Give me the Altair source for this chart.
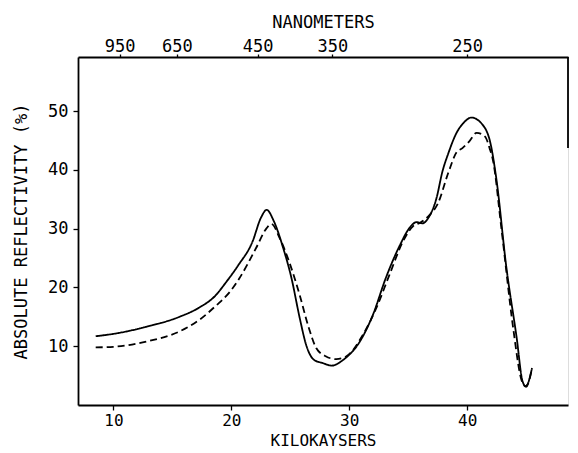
import altair as alt
import pandas as pd

# ---- data (kilokaysers, absolute reflectivity %) ----
solid_kk = [8.5, 10.0, 12.8, 15.6, 17.3, 18.6, 19.6, 20.6, 21.8, 22.5, 23.0, 23.6,
            24.4, 25.1, 25.8, 26.35, 27.0, 27.8, 28.5, 29.5, 30.9, 32.0, 33.1, 34.3,
            35.1, 35.7, 36.2, 36.7, 37.4, 37.9, 38.4, 39.1, 39.7, 40.35, 41.3, 42.0,
            42.5, 43.3, 44.2, 44.7, 45.0, 45.3, 45.5]
solid_r = [11.7, 12.1, 13.3, 15.0, 16.6, 18.5, 21.0, 23.8, 27.8, 31.8, 33.2, 31.3,
           26.7, 21.6, 14.8, 10.2, 7.7, 7.1, 6.7, 7.7, 10.8, 15.3, 21.6, 27.2,
           30.1, 31.1, 30.9, 31.8, 35.2, 39.7, 42.8, 46.3, 48.0, 48.9, 47.7, 44.3,
           38.1, 23.8, 11.4, 4.0, 3.1, 4.6, 6.3]

dashed_kk = [8.5, 10.0, 12.8, 15.6, 17.3, 18.7, 19.9, 20.7, 22.1, 23.0, 23.4, 24.1,
             24.9, 25.8, 26.5, 27.2, 28.0, 28.9, 29.7, 31.15, 32.3, 33.4, 34.55, 35.4,
             36.0, 36.8, 37.5, 38.4, 39.1, 39.6, 40.2, 40.8, 41.5, 41.9, 42.2, 42.9,
             43.9, 44.6, 44.95, 45.2, 45.45]
dashed_r = [9.8, 9.9, 10.8, 12.5, 14.5, 16.9, 19.3, 21.6, 26.7, 30.1, 30.8, 28.4,
            24.4, 18.7, 13.6, 9.7, 8.3, 7.8, 8.2, 11.9, 16.5, 22.1, 27.8, 30.4,
            31.0, 32.3, 34.2, 39.5, 43.0, 43.7, 44.9, 46.3, 45.7, 43.7, 41.5, 30.1,
            13.1, 4.3, 3.2, 3.8, 5.8]

x_ticks = [10, 20, 30, 40]
y_ticks = [10, 20, 30, 40, 50]
nm_ticks = [950, 650, 450, 350, 250]

X_DOMAIN = [7.0, 48.55]
Y_DOMAIN = [0, 59.2]
RIGHT_FRAME_BOTTOM = 43.7
FONT = "DejaVu Sans Mono"

df = pd.concat([
    pd.DataFrame({"kk": solid_kk, "r": solid_r, "series": "solid"}),
    pd.DataFrame({"kk": dashed_kk, "r": dashed_r, "series": "dashed"}),
])
nm_df = pd.DataFrame({"nm": nm_ticks, "kk": [1e4 / n for n in nm_ticks]})

common = dict(
    domainColor="black", domainWidth=1.8, tickColor="black", tickWidth=1.3,
    labelFont=FONT, labelColor="black",
    titleFont=FONT, titleFontWeight="normal", titleColor="black",
    grid=False,
)

xs = alt.Scale(domain=X_DOMAIN, nice=False, zero=False)
ys = alt.Scale(domain=Y_DOMAIN, nice=False, zero=False)

lines = alt.Chart(df).mark_line(color="black", strokeWidth=1.8, interpolate="monotone").encode(
    x=alt.X("kk:Q", scale=xs,
            axis=alt.Axis(values=x_ticks, title="KILOKAYSERS", orient="bottom",
                          labelFontSize=16, titleFontSize=16,
                          tickSize=5, labelPadding=2, titlePadding=4, **common)),
    y=alt.Y("r:Q", scale=ys,
            axis=alt.Axis(values=y_ticks, title="ABSOLUTE REFLECTIVITY (%)",
                          labelFontSize=17, titleFontSize=17,
                          tickSize=5, labelPadding=5, titlePadding=17, **common)),
    strokeDash=alt.StrokeDash("series:N",
                              scale=alt.Scale(domain=["solid", "dashed"], range=[[1, 0], [7, 4]]),
                              legend=None),
    detail="series:N",
)

top_axis = alt.Chart(nm_df).mark_point(opacity=0).encode(
    x=alt.X("kk:Q", scale=xs,
            axis=alt.Axis(values=[1e4 / n for n in nm_ticks], orient="top", title="NANOMETERS",
                          labelExpr="format(round(10000 / datum.value), 'd')",
                          labelFontSize=17, titleFontSize=17,
                          tickSize=3, labelPadding=-1, titlePadding=6, **common)),
)

right_frame = alt.Chart(nm_df.head(1)).mark_rule(color="black", strokeWidth=1.8).encode(
    x=alt.X("xr:Q", scale=xs, axis=None),
    y=alt.Y("y1:Q", scale=ys),
    y2="y2:Q",
).transform_calculate(xr=str(X_DOMAIN[1]), y1=str(Y_DOMAIN[1]), y2=str(RIGHT_FRAME_BOTTOM))

chart = alt.layer(lines, top_axis, right_frame).resolve_scale(x="independent").properties(
    width=490, height=348,
    autosize=alt.AutoSizeParams(type="none"),
    padding={"left": 70, "top": 49, "right": 2, "bottom": 47},
).configure_view(stroke=None).configure(background="white")

chart.save("out.html", embed_options={"renderer": "svg", "actions": False})
